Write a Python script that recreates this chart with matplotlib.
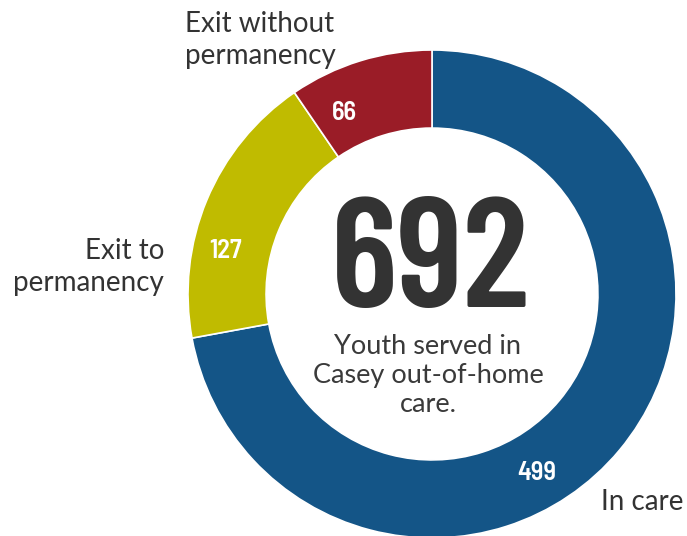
import matplotlib
matplotlib.use("Agg")
import matplotlib.pyplot as plt

# data
labels = ["In care", "Exit to\npermanency", "Exit without\npermanency"]
values = [499, 127, 66]
colors = ["#145587", "#c0bb00", "#9a1c27"]
total_label = "692"
center_note = "Youth served in\nCasey out-of-home\ncare."

big_font = ["Barlow Condensed", "DejaVu Sans"]
num_font = ["Barlow Semi Condensed", "Barlow Condensed", "DejaVu Sans"]
txt_font = ["Lato", "DejaVu Sans"]

fig = plt.figure(figsize=(6.87, 5.36), dpi=100)
ax = fig.add_axes([0, 0, 1, 1])

cx, cy, r = 432, 242, 244
ax.pie(values, colors=colors, startangle=90, counterclock=False,
       center=(cx, cy), radius=r, frame=True,
       wedgeprops=dict(width=r * 0.32, edgecolor="white", linewidth=1.2))
ax.set_xlim(0, 687)
ax.set_ylim(0, 536)
ax.set_aspect("equal")
ax.axis("off")

# numbers on the ring
num_pos = [(537, 63), (226, 285), (344, 423)]
for v, (x, y) in zip(values, num_pos):
    ax.text(x, y, str(v), color="white", fontsize=19, family=num_font,
            fontweight="semibold", ha="center", va="center")

# outside labels
ax.text(642, 34, labels[0], fontsize=20, family=txt_font, color="#333333",
        ha="center", va="center")
ax.text(164, 269, labels[1], fontsize=20, family=txt_font, color="#333333",
        ha="right", va="center", linespacing=1.25)
ax.text(260, 496, labels[2], fontsize=20, family=txt_font, color="#333333",
        ha="center", va="center", linespacing=1.25)

# middle
ax.text(430, 269, total_label, fontsize=112, family=big_font,
        fontweight="semibold", color="#333333", ha="center", va="center")
ax.text(428, 161, center_note, fontsize=19.5, family=txt_font, color="#3a3a3a",
        ha="center", va="center", linespacing=1.2)

fig.savefig("out.png", dpi=100)
